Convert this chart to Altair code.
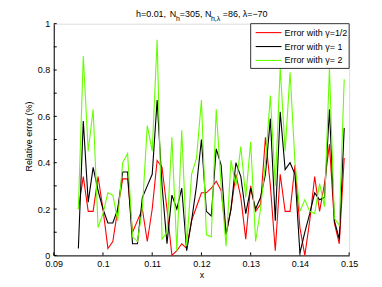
import altair as alt
import pandas as pd

x_vals = [0.095, 0.096, 0.097, 0.098, 0.099, 0.100, 0.101, 0.102, 0.103, 0.104,
          0.105, 0.106, 0.107, 0.108, 0.109, 0.110, 0.111, 0.112, 0.113, 0.114,
          0.115, 0.116, 0.117, 0.118, 0.119, 0.120, 0.121, 0.122, 0.123, 0.124,
          0.125, 0.126, 0.127, 0.128, 0.129, 0.130, 0.131, 0.132, 0.133, 0.134,
          0.135, 0.136, 0.137, 0.138, 0.139, 0.140, 0.141, 0.142, 0.143, 0.144,
          0.145, 0.146, 0.147, 0.148, 0.149]

red = [0.20, 0.34, 0.19, 0.19, 0.34, 0.20, 0.03, 0.06, 0.20, 0.33,
       0.33, 0.10, 0.15, 0.20, 0.06, 0.20, 0.41, 0.38, 0.20, 0.00,
       0.02, 0.05, 0.03, 0.15, 0.21, 0.27, 0.27, 0.29, 0.32, 0.28,
       0.09, 0.20, 0.35, 0.25, 0.07, 0.30, 0.19, 0.22, 0.51, 0.30,
       0.02, 0.35, 0.19, 0.19, 0.39, 0.12, 0.00, 0.15, 0.34, 0.19,
       0.31, 0.48, 0.14, 0.05, 0.42]

black = [0.03, 0.58, 0.23, 0.38, 0.28, 0.20, 0.14, 0.14, 0.20, 0.36,
         0.36, 0.05, 0.05, 0.25, 0.30, 0.35, 0.67, 0.30, 0.05, 0.26,
         0.20, 0.29, 0.02, 0.15, 0.30, 0.50, 0.19, 0.17, 0.46, 0.39,
         0.09, 0.20, 0.40, 0.34, 0.18, 0.29, 0.20, 0.25, 0.35, 0.59,
         0.15, 0.62, 0.37, 0.40, 0.35, 0.01, 0.10, 0.18, 0.27, 0.24,
         0.25, 0.63, 0.15, 0.07, 0.55]

green = [0.20, 0.86, 0.45, 0.63, 0.12, 0.18, 0.27, 0.26, 0.15, 0.40,
         0.44, 0.08, 0.06, 0.20, 0.56, 0.45, 0.93, 0.07, 0.10, 0.51,
         0.02, 0.54, 0.04, 0.35, 0.42, 0.67, 0.09, 0.08, 0.63, 0.30,
         0.04, 0.41, 0.30, 0.47, 0.25, 0.49, 0.06, 0.20, 0.40, 0.69,
         0.30, 0.81, 0.45, 0.79, 0.40, 0.19, 0.24, 0.19, 0.18, 0.31,
         0.21, 0.81, 0.16, 0.13, 0.76]

labels = ["Error with \u03b3=1/2", "Error with \u03b3= 1", "Error with \u03b3= 2"]
colors = ["#ff0000", "#000000", "#66ff00"]

x_ticks = [0.09, 0.10, 0.11, 0.12, 0.13, 0.14, 0.15]
y_ticks = [0, 0.1, 0.2, 0.3, 0.4, 0.5, 0.6, 0.7, 0.8, 0.9, 1]

W, H = 297, 233
FONT = "Liberation Sans"

xs = alt.Scale(domain=[0.09, 0.15], nice=False, zero=False)
ys = alt.Scale(domain=[0, 1], nice=False)

xaxis = alt.Axis(values=x_ticks, format="~g", ticks=False, grid=False,
                 labelFontSize=9, labelFont=FONT, labelColor="#000",
                 labelPadding=4, domainColor="#000", title="x",
                 titleFont=FONT, titleFontSize=9, titleFontWeight="normal",
                 titlePadding=2, titleColor="#000", labelFlush=False)
yaxis = alt.Axis(values=y_ticks, format="~g", ticks=False, grid=False,
                 labelFontSize=9, labelFont=FONT, labelColor="#000",
                 labelPadding=4, domainColor="#000", title="Relative error (%)",
                 titleFont=FONT, titleFontSize=9, titleFontWeight="normal",
                 titleColor="#000", titleX=-25, titleY=113, titleAngle=270,
                 titleAlign="center", titleBaseline="middle", labelFlush=False)

layers = []
for vals, c in zip([red, black, green], colors):
    df = pd.DataFrame({"x": x_vals, "v": vals})
    layers.append(
        alt.Chart(df).mark_line(color=c, strokeWidth=1.1).encode(
            x=alt.X("x:Q", scale=xs, axis=xaxis),
            y=alt.Y("v:Q", scale=ys, axis=yaxis),
        )
    )

# inward ticks
ytick_df = pd.DataFrame({"v": y_ticks})
xtick_df = pd.DataFrame({"x": x_ticks})
layers.append(alt.Chart(ytick_df).mark_rule(color="#000", strokeWidth=1).encode(
    y=alt.Y("v:Q", scale=ys), x=alt.value(0), x2=alt.value(3)))
layers.append(alt.Chart(xtick_df).mark_rule(color="#000", strokeWidth=1).encode(
    x=alt.X("x:Q", scale=xs), y=alt.value(H), y2=alt.value(H - 3)))

# legend box
lx0, lx1, ly0, ly1 = 198, 297, 0, 45
layers.append(alt.Chart(pd.DataFrame({"a": [0]})).mark_rect(
    fill="white", stroke="#333", strokeWidth=1).encode(
    x=alt.value(lx0), x2=alt.value(lx1), y=alt.value(ly0), y2=alt.value(ly1)))
for i, (lab, c) in enumerate(zip(labels, colors)):
    yy = 9 + 14 * i
    layers.append(alt.Chart(pd.DataFrame({"a": [0]})).mark_rule(
        color=c, strokeWidth=1.1).encode(
        x=alt.value(203), x2=alt.value(229), y=alt.value(yy)))
    layers.append(alt.Chart(pd.DataFrame({"t": [lab]})).mark_text(
        align="left", baseline="middle", font=FONT, fontSize=9, color="#000").encode(
        x=alt.value(232), y=alt.value(yy), text="t:N"))

# title pieces
title_parts = [
    ("h=0.01,", 131.7, 15.0, 9),
    ("N", 165.7, 15.0, 9),
    ("h", 172.0, 19.0, 7),
    ("=305,", 175.7, 15.0, 9),
    ("N", 201.0, 15.0, 9),
    ("h,\u03bb", 207.0, 19.0, 7),
    ("=86,", 219.0, 15.0, 9),
    ("\u03bb=\u221270", 239.0, 15.0, 9),
]
for t, px, py, fs in title_parts:
    layers.append(alt.Chart(pd.DataFrame({"t": [t]})).mark_text(
        align="left", baseline="alphabetic", font=FONT, fontSize=fs, color="#000").encode(
        x=alt.value(px - 49), y=alt.value(py - 22), text="t:N"))

chart = alt.layer(*layers).properties(
    width=W, height=H,
    autosize=alt.AutoSizeParams(type="none"),
    padding={"left": 46, "top": 15, "right": 25, "bottom": 25},
).configure_view(stroke=None).configure(background="white")

chart.save("out.html", embed_options={"renderer": "svg", "actions": False})
